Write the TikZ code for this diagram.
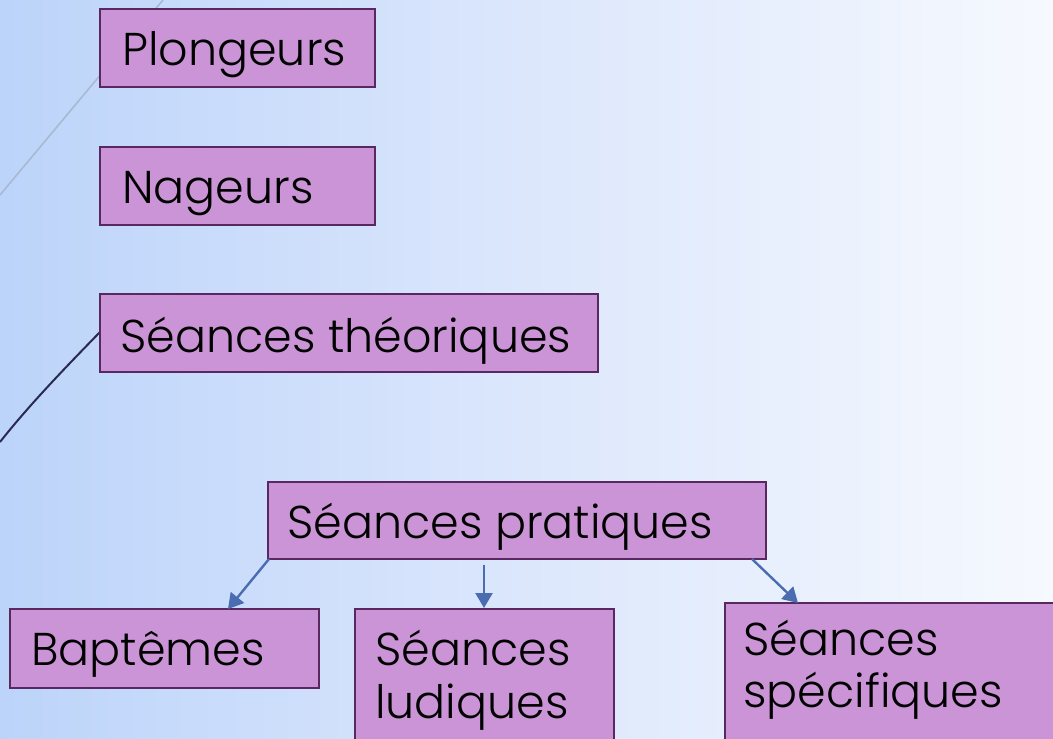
\documentclass[tikz,border=0pt]{standalone}
\usepackage{fontspec}
\setmainfont{Poppins}[UprightFont={* Light}]
\usetikzlibrary{arrows.meta}
\definecolor{boxfill}{HTML}{CA94D6}
\definecolor{boxline}{HTML}{5A2860}
\definecolor{arrowblue}{HTML}{4A6CB0}
\definecolor{bgleft}{HTML}{BCD4FA}
\definecolor{bgmid}{HTML}{DCE7FC}
\definecolor{bgright}{HTML}{F6F9FE}
\definecolor{greyline}{HTML}{A9B9D2}
\definecolor{darkline}{HTML}{2A2A50}
\begin{document}
\begin{tikzpicture}[x=1pt,y=-1pt,
  boxnode/.style={draw=boxline, line width=2pt, fill=boxfill, rectangle, inner sep=0pt},
  lbl/.style={anchor=base west, inner sep=0pt, font=\fontsize{46}{53}\selectfont, text=black},
  conn/.style={draw=arrowblue, line width=2.4pt, -{Triangle[length=15pt,width=17pt]}}]
\useasboundingbox (0,0) rectangle (1053,739);
\shade[left color=bgleft, right color=bgright, middle color=bgmid] (0,0) rectangle (1053,739);
% decorative lines
\draw[greyline, line width=1.6pt] (163,0) -- (0,195);
\draw[darkline, line width=2pt] (100,332) .. controls (66,367) and (30,404) .. (0,442);
% boxes
\node[boxnode, minimum width=275pt, minimum height=78pt] (plo) at (237.5,48) {};
\node[boxnode, minimum width=275pt, minimum height=78pt] (nag) at (237.5,186) {};
\node[boxnode, minimum width=498pt, minimum height=78pt] (theo) at (349,333) {};
\node[boxnode, minimum width=498pt, minimum height=77pt] (prat) at (517,520.5) {};
\node[boxnode, minimum width=309pt, minimum height=79pt] (bap) at (164.5,648.5) {};
\node[boxnode, minimum width=259pt, minimum height=151pt] (lud) at (484.5,684.5) {};
\node[boxnode, minimum width=355pt, minimum height=157pt] (spe) at (902.5,681.5) {};
% labels
\node[lbl] (tplo) at (122,65) {Plongeurs};
\node[lbl] (tnag) at (122,203) {Nageurs};
\node[lbl] (ttheo) at (120,352) {Séances théoriques};
\node[lbl] (tprat) at (287,538) {Séances pratiques};
\node[lbl] (tbap) at (31,665) {Baptêmes};
\node[lbl] (tlud1) at (375,665) {Séances};
\node[lbl] (tlud2) at (375,718) {ludiques};
\node[lbl] (tspe1) at (743,655) {Séances};
\node[lbl] (tspe2) at (743,707) {spécifiques};
% connectors
\coordinate (a1) at (269,559);
\coordinate (a1e) at (228,609);
\coordinate (a2) at (484,565);
\coordinate (a2e) at (484,608);
\coordinate (a3) at (752,559);
\coordinate (a3e) at (798,603);
\draw[conn] (a1) -- (a1e);
\draw[conn] (a2) -- (a2e);
\draw[conn] (a3) -- (a3e);
\end{tikzpicture}
\end{document}
